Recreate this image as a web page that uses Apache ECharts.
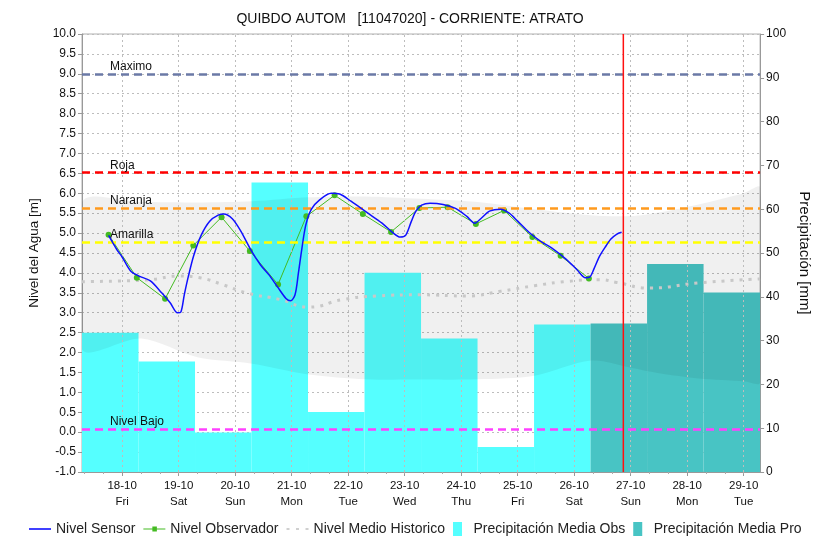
<!DOCTYPE html>
<html>
<head>
<meta charset="utf-8">
<script src="https://cdn.jsdelivr.net/npm/echarts@6/dist/echarts.min.js"></script>
<style>
  html, body { margin: 0; padding: 0; background: #fff; }
  #chart { width: 820px; height: 544px; }
</style>
</head>
<body>
<div id="chart"></div>
<script>
// dias (x = dias desde 18-10 00:00)
var dayLabels = ['18-10', '19-10', '20-10', '21-10', '22-10', '23-10', '24-10', '25-10', '26-10', '27-10', '28-10', '29-10'];
var weekDays = ['Fri', 'Sat', 'Sun', 'Mon', 'Tue', 'Wed', 'Thu', 'Fri', 'Sat', 'Sun', 'Mon', 'Tue'];
var dayTicks = [0, 1, 2, 3, 4, 5, 6, 7, 8, 9, 10, 11];

// Nivel Sensor
var sensorTimes = [-0.24, -0.1, 0.0, 0.15, 0.3, 0.5, 0.7, 0.85, 0.98, 1.04, 1.1, 1.17, 1.27, 1.4, 1.55, 1.7, 1.8, 1.95,
  2.1, 2.27, 2.45, 2.6, 2.75, 2.9, 2.98, 3.06, 3.12, 3.18, 3.25, 3.35, 3.5, 3.7, 3.85, 4.05, 4.35, 4.6, 4.8, 4.92,
  5.02, 5.12, 5.2, 5.3, 5.45, 5.68, 5.9, 6.1, 6.24, 6.36, 6.5, 6.7, 6.85, 7.0, 7.2, 7.4, 7.6, 7.86, 8.05, 8.2,
  8.28, 8.35, 8.45, 8.55, 8.65, 8.75, 8.84];
var sensorLevels = [4.94, 4.6, 4.4, 4.05, 3.92, 3.8, 3.5, 3.25, 3.0, 3.02, 3.45, 3.9, 4.45, 4.95, 5.3, 5.45, 5.48, 5.36,
  5.05, 4.6, 4.2, 3.95, 3.65, 3.36, 3.3, 3.45, 4.0, 4.6, 5.2, 5.6, 5.84, 6.0, 5.98, 5.8, 5.5, 5.25, 5.0, 4.9,
  4.95, 5.3, 5.55, 5.7, 5.75, 5.72, 5.62, 5.42, 5.25, 5.38, 5.55, 5.6, 5.5, 5.3, 5.02, 4.8, 4.63, 4.34, 4.08, 3.88,
  3.9, 4.1, 4.42, 4.65, 4.85, 4.97, 5.02];

// Nivel Observador
var obsTimes = [-0.24, 0.26, 0.76, 1.26, 1.76, 2.26, 2.76, 3.26, 3.76, 4.26, 4.76, 5.26, 5.76, 6.26, 6.76, 7.26, 7.76, 8.26];
var obsLevels = [4.96, 3.88, 3.35, 4.69, 5.4, 4.55, 3.71, 5.42, 5.95, 5.48, 5.03, 5.63, 5.65, 5.23, 5.57, 4.9, 4.43, 3.86];

// Nivel Medio Historico
var histTimes = [-0.71, 0.0, 0.5, 1.0, 1.4, 1.75, 2.2, 2.8, 3.3, 3.9, 4.5, 5.3, 6.1, 6.7, 7.3, 7.9, 8.45, 8.75, 9.33, 10.2, 11.29];
var histLevels = [3.78, 3.8, 3.83, 3.92, 3.87, 3.72, 3.5, 3.33, 3.14, 3.33, 3.42, 3.45, 3.42, 3.54, 3.68, 3.79, 3.83, 3.76, 3.62, 3.75, 3.85];

// banda historica (max / min)
var bandTimes = [-0.71, 0.34, 1.33, 2.3, 3.3, 4.3, 5.3, 6.3, 7.3, 8.3, 9.0, 9.5, 10.2, 11.0, 11.29];
var bandUpper = [5.78, 5.78, 5.77, 5.8, 5.9, 5.92, 5.86, 5.78, 5.6, 5.45, 5.43, 5.52, 5.72, 6.0, 6.14];
var bandLower = [2.08, 2.35, 1.88, 1.72, 1.45, 1.33, 1.32, 1.33, 1.42, 1.8, 1.62, 1.48, 1.35, 1.28, 1.25];

// Precipitacion [mm], centro de cada barra diaria
var precipObsDays = [-0.21, 0.79, 1.79, 2.79, 3.79, 4.79, 5.79, 6.79, 7.79];
var precipObs = [31.8, 25.2, 9.0, 66.1, 13.7, 45.5, 30.5, 5.7, 33.7];
var precipProDays = [8.79, 9.79, 10.79];
var precipPro = [33.9, 47.5, 41.0];

// umbrales
var levelNames = ['Maximo', 'Roja', 'Naranja', 'Amarilla', 'Nivel Bajo'];
var levelValues = [9.0, 6.52, 5.63, 4.78, 0.08];
var levelColors = ['#6b79a6', '#ff0000', '#ff9a1e', '#ffff00', '#ff40ff'];
var nowTime = [8.87];

function pairs(xs, ys) {
  return xs.map(function (x, i) { return [x, ys[i]]; });
}

function barRenderer(color) {
  return function (params, api) {
    var c = api.value(0), v = api.value(1);
    var p0 = api.coord([c - 0.5, v]);
    var p1 = api.coord([c + 0.5, 0]);
    return {
      type: 'rect',
      shape: { x: p0[0], y: p0[1], width: p1[0] - p0[0], height: p1[1] - p0[1] },
      style: { fill: color }
    };
  };
}

// banda gris: un solo poligono (max ida, min vuelta)
function bandRenderer(params, api) {
  if (params.dataIndex !== 0) return null;
  var pts = [];
  for (var i = 0; i < bandTimes.length; i++) pts.push(api.coord([bandTimes[i], bandUpper[i]]));
  for (var j = bandTimes.length - 1; j >= 0; j--) pts.push(api.coord([bandTimes[j], bandLower[j]]));
  return {
    type: 'polygon',
    shape: { points: pts, smooth: 0.3 },
    style: { fill: 'rgba(0,0,0,0.06)' }
  };
}

// linea vertical del momento actual
function nowRenderer(params, api) {
  var a = api.coord([api.value(0), 10]);
  var b = api.coord([api.value(0), -1]);
  return {
    type: 'line',
    shape: { x1: a[0], y1: a[1], x2: a[0], y2: b[1] },
    style: { stroke: '#ff1010', lineWidth: 1.5 }
  };
}

var chart = echarts.init(document.getElementById('chart'));

var option = {
  animation: false,
  textStyle: { fontFamily: 'Liberation Sans, Arial, sans-serif' },
  title: {
    text: 'QUIBDO AUTOM   [11047020] - CORRIENTE: ATRATO',
    left: 'center',
    top: 7,
    textStyle: { fontSize: 14, fontWeight: 'normal', color: '#111' }
  },
  grid: {
    left: 82, right: 59, top: 34, bottom: 72,
    show: true, borderColor: '#b0b0b0', borderWidth: 1
  },
  legend: {
    bottom: 3,
    left: 24,
    width: 796,
    itemGap: 8,
    itemWidth: 22,
    itemHeight: 14,
    textStyle: { fontSize: 14, color: '#222' },
    data: [
      { name: 'Nivel Sensor', icon: 'path://M0,0 L22,0 L22,1.5 L0,1.5 Z' },
      { name: 'Nivel Observador', icon: 'path://M0,2 L22,2 L22,3.2 L0,3.2 Z M9,0 L13.5,0 L13.5,5.2 L9,5.2 Z' },
      { name: 'Nivel Medio Historico', icon: 'path://M0,0 L3,0 L3,2 L0,2 Z M9.5,0 L12.5,0 L12.5,2 L9.5,2 Z M19,0 L22,0 L22,2 L19,2 Z' },
      { name: 'Precipitación Media Obs', icon: 'path://M0,0 L9,0 L9,14 L0,14 Z' },
      { name: 'Precipitación Media Pro', icon: 'path://M0,0 L9,0 L9,14 L0,14 Z' }
    ]
  },
  xAxis: {
    type: 'value',
    min: -0.71,
    max: 11.29,
    axisLine: { show: true, onZero: false, lineStyle: { color: '#999' } },
    axisTick: { show: true, customValues: dayTicks, length: 4, lineStyle: { color: '#999' } },
    minorTick: { show: true, splitNumber: 6, length: 2, lineStyle: { color: '#aaa' } },
    axisLabel: {
      customValues: dayTicks,
      fontSize: 11.5,
      color: '#111',
      lineHeight: 16,
      margin: 6,
      formatter: function (v) {
        var i = Math.round(v);
        return dayLabels[i] + '\n' + weekDays[i];
      }
    },
    splitLine: { show: false }
  },
  yAxis: [
    {
      type: 'value',
      min: -1,
      max: 10,
      interval: 0.5,
      name: 'Nivel del Agua [m]',
      nameLocation: 'middle',
      nameGap: 41,
      nameTextStyle: { fontSize: 13.5, color: '#111' },
      axisLine: { show: true, onZero: false, lineStyle: { color: '#999' } },
      axisTick: { show: true, length: 4, lineStyle: { color: '#999' } },
      axisLabel: {
        fontSize: 12, color: '#111', margin: 6,
        formatter: function (v) { return v.toFixed(1); }
      },
      splitLine: { show: true, lineStyle: { color: '#bdbdbd', type: [2, 3] } }
    },
    {
      type: 'value',
      min: 0,
      max: 100,
      interval: 10,
      name: 'Precipitación [mm]',
      nameLocation: 'middle',
      nameRotate: -90,
      nameGap: 36,
      nameTextStyle: { fontSize: 15, color: '#111' },
      axisLine: { show: true, onZero: false, lineStyle: { color: '#999' } },
      axisTick: { show: true, length: 4, lineStyle: { color: '#999' } },
      axisLabel: { fontSize: 12, color: '#111', margin: 6 },
      splitLine: { show: false }
    }
  ],
  series: [
    {
      name: 'rejilla',
      type: 'line',
      z: 0,
      silent: true,
      data: [],
      markLine: {
        silent: true,
        symbol: 'none',
        label: { show: false },
        lineStyle: { color: '#bdbdbd', type: [2, 3], width: 1 },
        data: dayTicks.map(function (d) { return { xAxis: d }; })
      }
    },
    {
      name: 'Precipitación Media Obs',
      type: 'custom',
      yAxisIndex: 1,
      z: 1,
      itemStyle: { color: '#55ffff' },
      renderItem: barRenderer('#55ffff'),
      data: pairs(precipObsDays, precipObs)
    },
    {
      name: 'Precipitación Media Pro',
      type: 'custom',
      yAxisIndex: 1,
      z: 1,
      itemStyle: { color: '#48c4c4' },
      renderItem: barRenderer('#48c4c4'),
      data: pairs(precipProDays, precipPro)
    },
    {
      name: 'banda',
      type: 'custom',
      z: 2,
      silent: true,
      clip: true,
      renderItem: bandRenderer,
      data: pairs(bandTimes, bandUpper)
    },
    {
      name: 'Nivel Medio Historico',
      type: 'line',
      z: 3,
      smooth: true,
      symbol: 'none',
      color: '#d0d0d0',
      lineStyle: { color: '#c8c8c8', width: 3, type: [3, 6] },
      data: pairs(histTimes, histLevels),
      markLine: {
        silent: true,
        symbol: 'none',
        data: levelNames.map(function (n, i) {
          return {
            name: n,
            yAxis: levelValues[i],
            lineStyle: { color: levelColors[i], type: [8, 5], width: 2.5 }
          };
        }),
        label: {
          show: true,
          position: 'insideStartTop',
          distance: [28, 1],
          fontSize: 12,
          color: '#111',
          formatter: '{b}'
        }
      }
    },
    {
      name: 'Nivel Observador',
      type: 'line',
      z: 4,
      symbol: 'circle',
      symbolSize: 6,
      color: '#44bb22',
      lineStyle: { color: '#44bb22', width: 1 },
      itemStyle: { color: '#44bb22' },
      data: pairs(obsTimes, obsLevels)
    },
    {
      name: 'Nivel Sensor',
      type: 'line',
      z: 5,
      smooth: 0.3,
      symbol: 'none',
      color: '#0000ff',
      lineStyle: { color: '#1010ff', width: 1.5 },
      data: pairs(sensorTimes, sensorLevels)
    },
    {
      name: 'ahora',
      type: 'custom',
      z: 6,
      silent: true,
      renderItem: nowRenderer,
      data: nowTime.map(function (t) { return [t, 0]; })
    }
  ]
};

chart.setOption(option);
</script>
</body>
</html>
